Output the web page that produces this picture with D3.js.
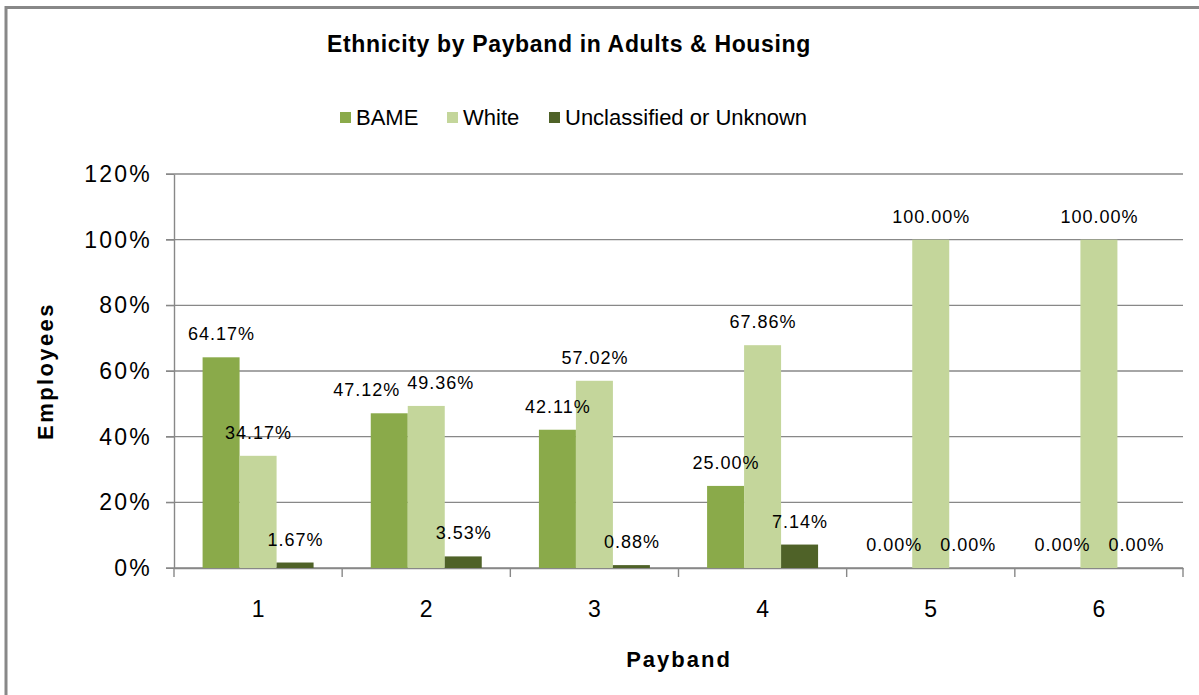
<!DOCTYPE html>
<html>
<head>
<meta charset="utf-8">
<script src="https://cdn.jsdelivr.net/npm/d3@7"></script>
<style>
  html, body { margin: 0; padding: 0; background: #fff; }
  svg { display: block; font-family: "Liberation Sans", Arial, sans-serif; }
</style>
</head>
<body>
<svg id="chart" width="1199" height="695"></svg>
<script>
// Paybands along the x axis
const paybands = ["1", "2", "3", "4", "5", "6"];
// Share of employees per payband, by ethnicity group
const seriesNames = ["BAME", "White", "Unclassified or Unknown"];
const bame = [64.17, 47.12, 42.11, 25.00, 0.00, 0.00];
const white = [34.17, 49.36, 57.02, 67.86, 100.00, 100.00];
const unknown = [1.67, 3.53, 0.88, 7.14, 0.00, 0.00];
const yTicks = [0, 20, 40, 60, 80, 100, 120];
const colors = ["#8aaa4a", "#c4d69b", "#4f6228"];

// Labels pushed sideways where neighbouring labels would collide
const labelNudge = { "2": [-23, 14, 0] };

const seriesValues = [bame, white, unknown];

const svg = d3.select("#chart");
const W = 1199, H = 695;

// Chart frame
svg.append("rect").attr("x", 0).attr("y", 0).attr("width", W).attr("height", H).attr("fill", "#fff");
svg.append("path")
  .attr("d", `M6,${H + 5} L6,7.5 L${W + 5},7.5`)
  .attr("fill", "none").attr("stroke", "#888").attr("stroke-width", 3);

const plot = { left: 174, right: 1183, top: 174, bottom: 568 };

const x = d3.scaleBand().domain(paybands).range([plot.left, plot.right]).paddingInner(0).paddingOuter(0);
const groupPad = 0.17;
const xs = d3.scaleBand().domain(seriesNames)
  .range([x.bandwidth() * groupPad, x.bandwidth() * (1 - groupPad)]);
const y = d3.scaleLinear().domain([0, 120]).range([plot.bottom, plot.top]);

// Horizontal gridlines
svg.append("g").selectAll("line").data(yTicks).join("line")
  .attr("x1", plot.left - 8).attr("x2", plot.right)
  .attr("y1", d => y(d)).attr("y2", d => y(d))
  .attr("stroke", "#888").attr("stroke-width", 1.4);

// Y axis
const yAxis = svg.append("g").attr("transform", `translate(${plot.left},0)`)
  .call(d3.axisLeft(y).tickValues(yTicks).tickFormat(d => d + "%").tickSize(8).tickSizeOuter(0));
yAxis.select(".domain").attr("stroke", "#888").attr("stroke-width", 1.4);
yAxis.selectAll(".tick line").attr("stroke", "#888");
yAxis.selectAll(".tick text")
  .attr("x", -22).attr("font-size", 23).attr("fill", "#000")
  .attr("letter-spacing", 2.2)
  .attr("font-family", "'Liberation Sans', Arial, sans-serif");

// X axis
const xAxis = svg.append("g").attr("transform", `translate(0,${plot.bottom})`)
  .call(d3.axisBottom(x).tickSize(0).tickSizeOuter(0));
xAxis.select(".domain").attr("stroke", "#888").attr("stroke-width", 1.4);
xAxis.selectAll(".tick text")
  .attr("y", 49).attr("dy", 0).attr("font-size", 23).attr("fill", "#000")
  .attr("font-family", "'Liberation Sans', Arial, sans-serif");
// Category separators
svg.append("g").selectAll("line").data(d3.range(paybands.length + 1)).join("line")
  .attr("x1", i => plot.left + i * x.step()).attr("x2", i => plot.left + i * x.step())
  .attr("y1", plot.bottom).attr("y2", plot.bottom + 9)
  .attr("stroke", "#888").attr("stroke-width", 1.4);

// Flatten to one record per bar
const cells = [];
paybands.forEach((band, bi) => {
  const nudge = labelNudge[band] || [0, 0, 0];
  seriesNames.forEach((name, si) => {
    cells.push({ band, name, si, value: seriesValues[si][bi], nudge: nudge[si] });
  });
});

// Bars
svg.append("g").selectAll("rect").data(cells).join("rect")
  .attr("x", d => x(d.band) + xs(d.name)).attr("width", xs.bandwidth())
  .attr("y", d => y(d.value)).attr("height", d => y(0) - y(d.value))
  .attr("fill", d => colors[d.si]);

// Value labels, drawn above every bar
svg.append("g").selectAll("text").data(cells).join("text")
  .attr("x", d => x(d.band) + xs(d.name) + xs.bandwidth() / 2 + d.nudge + 0.5)
  .attr("y", d => y(d.value) - 17)
  .attr("text-anchor", "middle")
  .attr("font-size", 18).attr("letter-spacing", 1).attr("fill", "#000")
  .text(d => d.value.toFixed(2) + "%");

// Title
svg.append("text").attr("x", 569).attr("y", 52).attr("text-anchor", "middle")
  .attr("font-size", 23).attr("font-weight", "bold").attr("letter-spacing", 0.65).attr("fill", "#000")
  .text("Ethnicity by Payband in Adults & Housing");

// Legend
const legendX = [340, 447, 549];
const legend = svg.append("g");
seriesNames.forEach((name, i) => {
  legend.append("rect").attr("x", legendX[i]).attr("y", 112).attr("width", 11).attr("height", 11).attr("fill", colors[i]);
  legend.append("text").attr("x", legendX[i] + 16).attr("y", 125)
    .attr("font-size", 22).attr("fill", "#000").text(name);
});

// Axis titles
svg.append("text").attr("x", 679).attr("y", 667).attr("text-anchor", "middle")
  .attr("font-size", 22).attr("font-weight", "bold").attr("letter-spacing", 2).attr("fill", "#000").text("Payband");
svg.append("text").attr("transform", "translate(53,371) rotate(-90)").attr("text-anchor", "middle")
  .attr("font-size", 22).attr("font-weight", "bold").attr("letter-spacing", 2.4).attr("fill", "#000").text("Employees");
</script>
</body>
</html>
